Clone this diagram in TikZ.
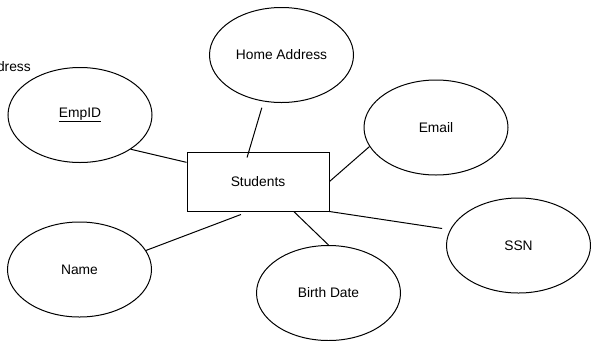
\documentclass[tikz,border=0pt]{standalone}
\usepackage{fontspec}
\setmainfont{Liberation Sans}
\usetikzlibrary{shapes.geometric}
\tikzset{
  entity/.style={draw,line width=1bp,minimum width=142bp,minimum height=59bp,inner sep=0pt},
  attr/.style={ellipse,draw,line width=1bp,minimum width=144bp,minimum height=95bp,inner sep=0pt},
  link/.style={line width=1bp,draw=black}
}

\begin{document}
\begin{tikzpicture}[x=1bp,y=-1bp,font=\fontsize{13.8bp}{16bp}\selectfont]
 \useasboundingbox (0,0) rectangle (591,340);
 \node[entity] (students) at (258,181.5) {Students};
 \node[attr] (empid) at (80,115) {\underline{EmpID}};
 \node[attr] (home) at (281.5,55) {Home Address};
 \node[attr] (email) at (436,127.5) {Email};
 \node[attr] (ssn) at (518.5,245.5) {SSN};
 \node[attr] (birth) at (328.5,293) {Birth Date};
 \node[attr] (name) at (79.5,269.5) {Name};
 \node[anchor=base east,inner sep=0pt] (addr) at (31,71) {Address};
 % links
 \draw[link] (empid.-34.5) -- (students.165);
 \draw[link,shorten <=6.5bp,shorten >=-6.3bp] (home.249) -- (students.107);
 \draw[link] (email.196.5) -- (students.east);
 \draw[link,shorten >=8bp] (students.south east) -- (ssn.167);
 \draw[link] (students.-40) -- (birth.north);
 \draw[link,shorten >=8.4bp] (name.16) -- (students.253);
\end{tikzpicture}
\end{document}
